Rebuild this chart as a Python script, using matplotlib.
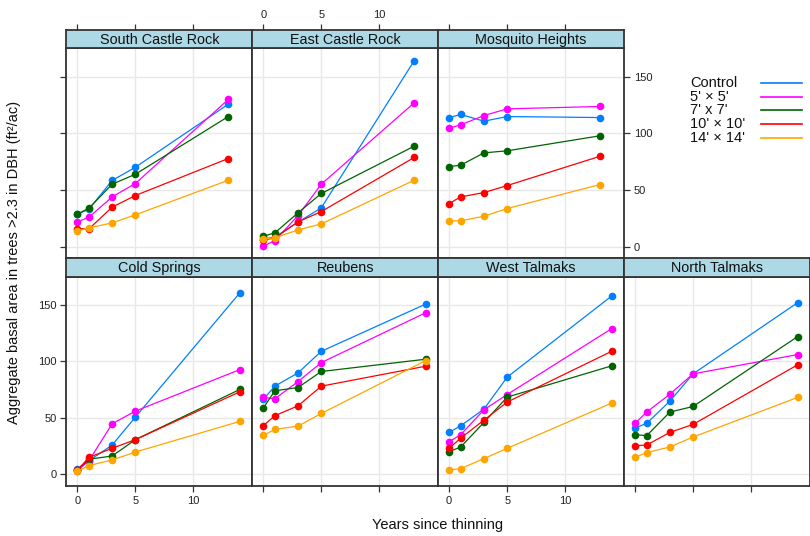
"""
Basal area growth after thinning - lattice-style panel plot
"""

import matplotlib.pyplot as plt
from matplotlib.lines import Line2D

plt.rcParams["font.family"] = ["Liberation Sans", "DejaVu Sans"]

# Data
years_top = [0, 1, 3, 5, 13]
years_bottom = [0, 1, 3, 5, 14]
treatments = ["Control", "5' × 5'", "7' x 7'", "10' × 10'", "14' × 14'"]
colors = ["#0080ff", "#ff00ff", "#006400", "#ff0000", "#ffa500"]

# rows: Control, 5x5, 7x7, 10x10, 14x14
south_castle_rock = [
    [28.6, 33.0, 58.4, 70.1, 125.8],
    [21.8, 25.9, 43.9, 55.7, 130.0],
    [28.6, 33.9, 55.1, 63.9, 114.9],
    [15.9, 15.6, 34.8, 45.1, 77.8],
    [13.9, 16.5, 20.9, 28.0, 58.6],
]
east_castle_rock = [
    [6.8, 8.3, 21.5, 34.2, 164.2],
    [0.3, 5.3, 27.4, 55.1, 127.0],
    [9.1, 12.1, 29.8, 46.9, 88.7],
    [5.6, 7.7, 21.8, 30.9, 78.7],
    [6.5, 7.7, 14.7, 20.0, 58.6],
]
mosquito_heights = [
    [114.0, 116.7, 110.8, 114.9, 114.0],
    [104.6, 107.6, 115.8, 121.7, 123.8],
    [70.7, 71.9, 82.8, 84.6, 97.9],
    [38.0, 43.9, 47.7, 53.9, 79.8],
    [22.7, 22.7, 26.8, 33.6, 54.8],
]
cold_springs = [
    [5.0, 12.0, 25.9, 50.7, 160.9],
    [3.2, 12.0, 44.8, 56.0, 92.8],
    [3.8, 13.3, 16.2, 30.7, 75.2],
    [3.5, 15.0, 23.0, 30.7, 73.1],
    [2.7, 7.7, 12.7, 19.7, 46.9],
]
reubens = [
    [66.3, 78.1, 89.9, 109.0, 150.9],
    [68.1, 66.9, 82.2, 99.0, 143.2],
    [58.6, 74.0, 76.9, 91.1, 102.0],
    [43.0, 51.9, 60.7, 78.1, 95.8],
    [34.5, 39.8, 42.7, 53.9, 100.8],
]
west_talmaks = [
    [37.1, 43.0, 57.8, 86.1, 158.0],
    [28.9, 35.1, 57.2, 70.7, 129.1],
    [20.0, 24.2, 46.0, 68.4, 96.1],
    [23.0, 32.1, 48.0, 64.0, 109.0],
    [3.8, 5.0, 13.9, 23.0, 63.1],
]
north_talmaks = [
    [41.0, 45.1, 64.8, 89.0, 152.1],
    [45.1, 55.1, 71.0, 89.0, 106.1],
    [35.1, 34.2, 55.1, 60.1, 122.0],
    [25.3, 25.9, 37.1, 44.2, 97.0],
    [15.0, 19.2, 24.2, 33.0, 68.1],
]

# (name, values, row, col)
panels = [
    ("South Castle Rock", south_castle_rock, 0, 0),
    ("East Castle Rock", east_castle_rock, 0, 1),
    ("Mosquito Heights", mosquito_heights, 0, 2),
    ("Cold Springs", cold_springs, 1, 0),
    ("Reubens", reubens, 1, 1),
    ("West Talmaks", west_talmaks, 1, 2),
    ("North Talmaks", north_talmaks, 1, 3),
]

# Layout in pixels
W, H = 810, 536
COL_LEFT = 66.3
COL_W = 185.9
ROW_STRIP_TOP = [30.0, 258.3]
STRIP_H = 18.2
ROW_PANEL_BOTTOM = [258.3, 486.0]
XLIM = (-0.95, 15.06)
YLIM = (-10.4, 175.3)
BORDER = "#333333"
GRID = "#e8e8e8"

fig = plt.figure(figsize=(W / 100, H / 100), dpi=100)


def fig_rect(x0, y_top, w, y_bottom):
    return [x0 / W, 1 - y_bottom / H, w / W, (y_bottom - y_top) / H]


def style_ticks(ax):
    ax.tick_params(direction="out", length=4.5, width=0.9, color=BORDER,
                   labelsize=8, labelcolor="#222222", pad=2.5)


for name, values, row, col in panels:
    x0 = COL_LEFT + col * COL_W
    panel_top = ROW_STRIP_TOP[row] + STRIP_H
    ax = fig.add_axes(fig_rect(x0, panel_top, COL_W, ROW_PANEL_BOTTOM[row]))
    years = years_top if row == 0 else years_bottom

    ax.set_xlim(*XLIM)
    ax.set_ylim(*YLIM)
    ax.set_xticks([0, 5, 10])
    ax.set_yticks([0, 50, 100, 150])
    ax.grid(color=GRID, lw=1)
    ax.set_axisbelow(True)

    for vals, c in zip(values, colors):
        ax.plot(years, vals, "-o", color=c, lw=0.9, ms=5.5, mew=0)

    for sp in ax.spines.values():
        sp.set_color(BORDER)
        sp.set_linewidth(1.3)

    style_ticks(ax)
    ax.tick_params(axis="x", top=False, labeltop=False,
                   bottom=(row == 1), labelbottom=(row == 1 and col in (0, 2)))
    if row == 0:
        ax.tick_params(axis="y", left=(col == 0), labelleft=False,
                       right=(col == 2), labelright=(col == 2))
    else:
        ax.tick_params(axis="y", left=(col == 0), labelleft=(col == 0),
                       right=False)

    # strip (top axis ticks of the first row sit above the strip)
    sax = fig.add_axes(fig_rect(x0, ROW_STRIP_TOP[row], COL_W, panel_top))
    sax.set_facecolor("#add8e6")
    sax.set_xlim(*XLIM)
    sax.set_yticks([])
    if row == 0:
        sax.set_xticks([0, 5, 10])
        style_ticks(sax)
        sax.tick_params(axis="x", bottom=False, labelbottom=False,
                        top=True, labeltop=(col == 1))
    else:
        sax.set_xticks([])
    for sp in sax.spines.values():
        sp.set_color(BORDER)
        sp.set_linewidth(1.3)
    sax.text(0.5, 0.45, name, ha="center", va="center", fontsize=10.4,
             transform=sax.transAxes, color="#111111")

# Legend (text left, line right, as in lattice key)
leg_rows = [82.7, 96.7, 110.3, 124.3, 138.0]
for label, c, yp in zip(treatments, colors, leg_rows):
    fig.text(690 / W, 1 - yp / H, label, ha="left", va="center",
             fontsize=10.5, color="#111111")
    fig.add_artist(Line2D([761 / W, 801.7 / W], [1 - yp / H, 1 - yp / H],
                          color=c, lw=1.2, transform=fig.transFigure))

fig.text(14 / W, 1 - 262 / H,
         "Aggregate basal area in trees >2.3 in DBH (ft²/ac)",
         rotation=90, ha="center", va="center", fontsize=10.5, color="#111111")
fig.text(437.5 / W, 1 - 525 / H, "Years since thinning",
         ha="center", va="center", fontsize=10.5, color="#111111")

fig.savefig("out.png", dpi=100)
